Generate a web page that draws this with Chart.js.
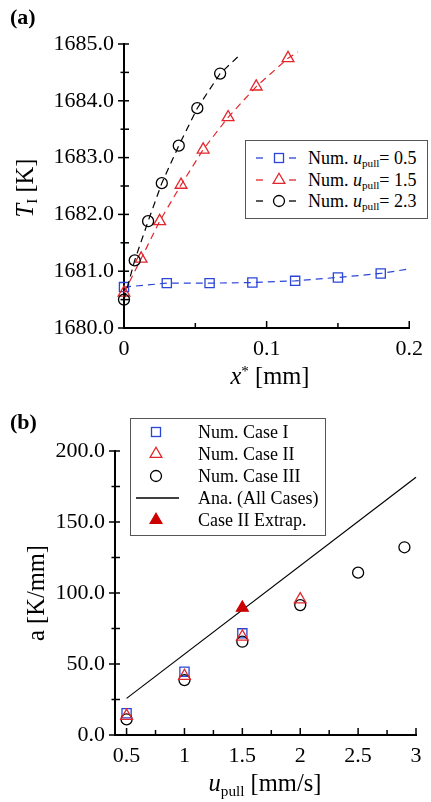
<!DOCTYPE html>
<html>
<head>
<meta charset="utf-8">
<script src="https://cdn.jsdelivr.net/npm/chart.js@4.4.1/dist/chart.umd.min.js"></script>
<style>
html, body { margin: 0; padding: 0; background: #fff; }
body { width: 431px; height: 802px; position: relative; overflow: hidden;
       font-family: "Liberation Serif", "Times New Roman", serif; color: #000; }
canvas { position: absolute; left: 0; }
.lbl { position: absolute; white-space: nowrap; line-height: 1; font-size: 22px; }
.panel { font-weight: bold; }
.ytitle { transform: translate(-50%, -50%) rotate(-90deg); font-size: 24.5px; }
.xtitle { transform: translateX(-50%); font-size: 24.5px; }
.legend { position: absolute; box-sizing: border-box; border: 1.5px solid #555; background: #fff; }
.row { position: absolute; left: 0; right: 0; height: 20px; font-size: 18px; line-height: 20px; white-space: nowrap; }
.row svg { position: absolute; top: 0; }
.row .t { position: absolute; top: 0; }
sub { font-size: 0.62em; vertical-align: -0.3em; line-height: 0; }
sup { font-size: 0.62em; vertical-align: 0.55em; line-height: 0; }
</style>
</head>
<body>
<canvas id="chartA" width="431" height="400" style="top:0"></canvas>
<canvas id="chartB" width="431" height="402" style="top:400px"></canvas>

<div class="lbl panel" style="left:10px;top:6px">(a)</div>
<div class="lbl panel" style="left:10px;top:411px">(b)</div>
<div class="lbl ytitle" style="left:25px;top:188px"><i>T</i><sub>I</sub> [K]</div>
<div class="lbl xtitle" style="left:270px;top:364px"><i>x</i><sup>*</sup> [mm]</div>
<div class="lbl ytitle" style="left:36px;top:593px">a [K/mm]</div>
<div class="lbl xtitle" style="left:265px;top:771px"><i>u</i><sub>pull</sub> [mm/s]</div>

<div class="legend" id="legendA" style="left:245px;top:140px;width:183px;height:79px"></div>
<div class="legend" id="legendB" style="left:130px;top:418px;width:196px;height:118px"></div>

<script>
// ---- panel (a): interface temperature vs distance ----
const xBlue = [0, 0.03, 0.06, 0.09, 0.12, 0.15, 0.18];
const tBlue = [1680.72, 1680.79, 1680.79, 1680.80, 1680.83, 1680.89, 1680.96];
const xRed = [0, 0.012, 0.025, 0.040, 0.0555, 0.073, 0.0927, 0.115];
const tRed = [1680.62, 1681.22, 1681.88, 1682.52, 1683.14, 1683.71, 1684.25, 1684.75];
const xBlack = [0, 0.0075, 0.0169, 0.0265, 0.0384, 0.0514, 0.0674];
const tBlack = [1680.50, 1681.19, 1681.88, 1682.55, 1683.21, 1683.87, 1684.48];
// where the dashed fit curves stop
const xBlueEnd = 0.2,  tBlueEnd = 1681.04;
const xRedEnd = 0.122, tRedEnd = 1684.86;
const xBlackEnd = 0.0805, tBlackEnd = 1684.79;

const xTicksA = [0, 0.05, 0.1, 0.15, 0.2];
const xTickLabelsA = ['0', '', '0.1', '', '0.2'];
const tTicksA = [1680, 1680.5, 1681, 1681.5, 1682, 1682.5, 1683, 1683.5, 1684, 1684.5, 1685];
const tTickLabelsA = ['1680.0', '', '1681.0', '', '1682.0', '', '1683.0', '', '1684.0', '', '1685.0'];

// ---- panel (b): gradient a vs pulling speed ----
const uPull = [0.5, 1, 1.5, 2, 2.5, 2.9];
const caseI = [15.3, 44.6, 71.6];
const caseII = [13.4, 41.5, 69.2, 95.5];
const caseIII = [11.0, 38.7, 65.7, 91.5, 114.3, 132.2];
const extrapU = [1.5];
const extrapA = [89.6];
const anaU = [0.5, 3.0];
const anaA = [25.8, 181.5];

const uTicksB = [0.5, 0.75, 1, 1.25, 1.5, 1.75, 2, 2.25, 2.5, 2.75, 3];
const uTickLabelsB = ['0.5', '', '1', '', '1.5', '', '2', '', '2.5', '', '3'];
const aTicksB = [0, 25, 50, 75, 100, 125, 150, 175, 200];
const aTickLabelsB = ['0.0', '', '50.0', '', '100.0', '', '150.0', '', '200.0'];

const BLUE = '#2a45d8', RED = '#e3262b', DARKRED = '#cc0000';

Chart.defaults.font.family = '"Liberation Serif", "Times New Roman", serif';
Chart.defaults.font.size = 22;
Chart.defaults.color = '#000';

const pts = (xs, ys) => ys.map((y, i) => ({ x: xs[i], y: y }));

// tick marks crossing the axis lines, major longer than minor
const crossTicks = {
  id: 'crossTicks',
  afterDraw(chart) {
    const ctx = chart.ctx, area = chart.chartArea;
    const xs = chart.scales.x, ys = chart.scales.y;
    ctx.save();
    ctx.strokeStyle = '#000';
    ctx.lineWidth = 1.5;
    xs.ticks.forEach(t => {
      const p = xs.getPixelForValue(t.value);
      ctx.beginPath();
      ctx.moveTo(p, area.bottom + 1);
      ctx.lineTo(p, area.bottom - (t.label !== '' ? 7 : 5));
      ctx.stroke();
    });
    ys.ticks.forEach(t => {
      const p = ys.getPixelForValue(t.value);
      ctx.beginPath();
      ctx.moveTo(area.left - (t.label !== '' ? 6 : 3.5), p);
      ctx.lineTo(area.left + 5, p);
      ctx.stroke();
    });
    ctx.restore();
  }
};

function axis(min, max, ticks, labels, size, horizontal) {
  return {
    type: 'linear', min: min, max: max,
    afterBuildTicks: s => { s.ticks = ticks.map(v => ({ value: v })); },
    afterFit: s => { if (horizontal) s.height = size; else s.width = size; },
    grid: { display: false, drawTicks: false, tickLength: 0 },
    border: { display: true, color: '#000', width: 2 },
    ticks: { autoSkip: false, maxRotation: 0, padding: horizontal ? 8 : 10,
             callback: (v, i) => labels[i] }
  };
}

function curve(data, color, style, radius) {
  const n = data.length - 1;
  return {
    data: data, showLine: true, borderColor: color, borderWidth: 1.2, borderDash: [7, 5],
    pointStyle: style, pointRadius: data.map((_, i) => i < n ? radius : 0),
    pointBorderColor: color, pointBackgroundColor: 'rgba(0,0,0,0)', pointBorderWidth: 1.3,
    clip: false
  };
}

new Chart(document.getElementById('chartA'), {
  type: 'scatter',
  data: {
    datasets: [
      curve(pts(xBlack.concat([xBlackEnd]), tBlack.concat([tBlackEnd])), '#000', 'circle', 5.5),
      curve(pts(xRed.concat([xRedEnd]), tRed.concat([tRedEnd])), RED, 'triangle', 6.8),
      curve(pts(xBlue.concat([xBlueEnd]), tBlue.concat([tBlueEnd])), BLUE, 'rect', 6.5)
    ]
  },
  options: {
    responsive: false, animation: false, devicePixelRatio: 1,
    layout: { padding: { top: 44, right: 15, left: 0, bottom: 0 } },
    plugins: { legend: { display: false }, tooltip: { enabled: false } },
    scales: {
      x: axis(0, 0.2, xTicksA, xTickLabelsA, 72, true),
      y: axis(1680, 1685, tTicksA, tTickLabelsA, 124, false)
    }
  },
  plugins: [crossTicks]
});

function marks(data, color, style, radius, filled) {
  return {
    data: data, showLine: false, pointStyle: style, pointRadius: radius,
    pointBorderColor: color, pointBackgroundColor: filled ? color : 'rgba(0,0,0,0)',
    pointBorderWidth: 1.3, clip: false
  };
}

new Chart(document.getElementById('chartB'), {
  type: 'scatter',
  data: {
    datasets: [
      marks(pts(extrapU, extrapA), DARKRED, 'triangle', 6.8, true),
      marks(pts(uPull, caseII), RED, 'triangle', 6.8, false),
      marks(pts(uPull, caseIII), '#000', 'circle', 5.5, false),
      marks(pts(uPull, caseI), BLUE, 'rect', 6.5, false),
      { data: pts(anaU, anaA), showLine: true, borderColor: '#000', borderWidth: 1.2,
        pointRadius: 0, clip: false }
    ]
  },
  options: {
    responsive: false, animation: false, devicePixelRatio: 1,
    layout: { padding: { top: 51, right: 15, left: 0, bottom: 0 } },
    plugins: { legend: { display: false }, tooltip: { enabled: false } },
    scales: {
      x: axis(0.4, 3.0, uTicksB, uTickLabelsB, 67, true),
      y: axis(0, 200, aTicksB, aTickLabelsB, 115, false)
    }
  },
  plugins: [crossTicks]
});

// ---- legends (html so subscripts stay text) ----
function symbol(style, color, filled, cx) {
  const f = filled ? color : 'none';
  if (style === 'rect') return `<rect x="${cx - 4.5}" y="5.5" width="9" height="9" fill="${f}" stroke="${color}" stroke-width="1.3"/>`;
  if (style === 'circle') return `<circle cx="${cx}" cy="10" r="5.5" fill="${f}" stroke="${color}" stroke-width="1.3"/>`;
  if (style === 'triangle') {
    const r = 6.8, h = r * Math.sin(Math.PI / 3);
    return `<polygon points="${cx},${10 - r} ${cx - h},${10 + r / 2} ${cx + h},${10 + r / 2}" fill="${f}" stroke="${color}" stroke-width="1.3"/>`;
  }
  return '';
}

const legendA = document.getElementById('legendA');
[[BLUE, 'rect', '0.5'], [RED, 'triangle', '1.5'], ['#000', 'circle', '2.3']].forEach((e, i) => {
  const row = document.createElement('div');
  row.className = 'row';
  row.style.top = (7 + i * 21.5) + 'px';
  row.innerHTML =
    `<svg width="50" height="20" style="left:8px">` +
    `<line x1="2" y1="10" x2="9" y2="10" stroke="${e[0]}" stroke-width="1.3"/>` +
    `<line x1="35" y1="10" x2="42" y2="10" stroke="${e[0]}" stroke-width="1.3"/>` +
    symbol(e[1], e[0], false, 25) + `</svg>` +
    `<span class="t" style="left:62px">Num. <i>u</i><sub>pull</sub>= ${e[2]}</span>`;
  legendA.appendChild(row);
});

const legendB = document.getElementById('legendB');
[[BLUE, 'rect', false, 'Num. Case I'], [RED, 'triangle', false, 'Num. Case II'],
 ['#000', 'circle', false, 'Num. Case III'], ['#000', 'line', false, 'Ana. (All Cases)'],
 [DARKRED, 'triangle', true, 'Case II Extrap.']].forEach((e, i) => {
  const row = document.createElement('div');
  row.className = 'row';
  row.style.top = (2.5 + i * 22.2) + 'px';
  const sym = e[1] === 'line'
    ? `<line x1="4" y1="10" x2="47" y2="10" stroke="#000" stroke-width="1.3"/>`
    : symbol(e[1], e[0], e[2], 24);
  row.innerHTML = `<svg width="52" height="20" style="left:1px">${sym}</svg>` +
    `<span class="t" style="left:67px">${e[3]}</span>`;
  legendB.appendChild(row);
});
</script>
</body>
</html>
